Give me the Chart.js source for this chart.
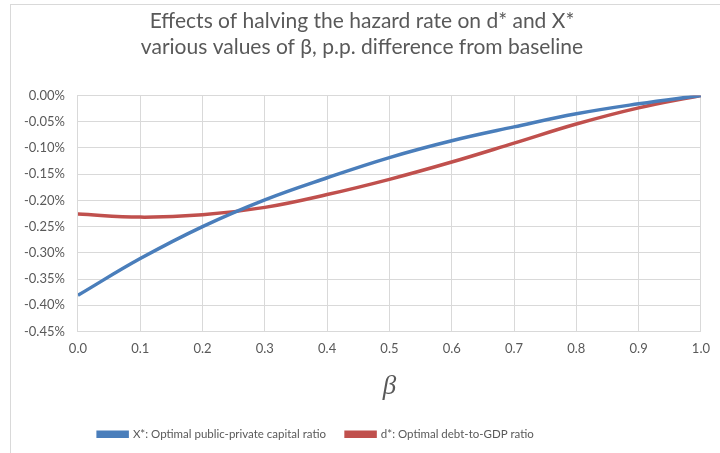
<!DOCTYPE html>
<html>
<head>
<meta charset="utf-8">
<script src="https://cdn.jsdelivr.net/npm/chart.js@4"></script>
<style>
  html, body { margin: 0; padding: 0; background: #fff; }
  #wrap { position: relative; width: 720px; height: 453px; overflow: hidden; }
  #frame { position: absolute; left: 10px; top: 4px; width: 800px; height: 600px; border: 1px solid #d9d9d9; pointer-events: none; }
</style>
</head>
<body>
<div id="wrap">
  <canvas id="chart" width="720" height="453"></canvas>
  <div id="frame"></div>
</div>
<script>
// beta values on the x axis
const betas = [0.0, 0.1, 0.2, 0.3, 0.4, 0.5, 0.6, 0.7, 0.8, 0.9, 1.0];
// X*: optimal public-private capital ratio, p.p. difference from baseline (%)
const xStar = [-0.381, -0.311, -0.250, -0.199, -0.157, -0.1185, -0.0865, -0.060, -0.035, -0.016, 0.0];
// d*: optimal debt-to-GDP ratio, p.p. difference from baseline (%)
const dStar = [-0.226, -0.232, -0.2275, -0.2134, -0.189, -0.160, -0.127, -0.091, -0.0545, -0.0237, 0.0];

const seriesNames = ["X*: Optimal public-private capital ratio", "d*: Optimal debt-to-GDP ratio"];
const titleLines = ["Effects of halving the hazard rate on d* and X*", "various values of β, p.p. difference from baseline"];

const toPoints = (ys) => betas.map((b, i) => ({ x: b, y: ys[i] }));

const textColor = "#595959";
const gridColor = "#d9d9d9";
const baseFont = "Lato, 'Open Sans', sans-serif";

// Excel-style legend sits left of centre
const legendShift = {
  id: "legendShift",
  afterLayout(chart) {
    chart.legend.left -= 46;
    chart.legend.right -= 46;
  }
};

new Chart(document.getElementById("chart"), {
  type: "line",
  data: {
    datasets: [
      {
        label: seriesNames[0],
        data: toPoints(xStar),
        borderColor: "#4a7ebb",
        backgroundColor: "#4a7ebb",
        borderWidth: 3.5,
        pointRadius: 0,
        tension: 0.4
      },
      {
        label: seriesNames[1],
        data: toPoints(dStar),
        borderColor: "#c0504d",
        backgroundColor: "#c0504d",
        borderWidth: 3.5,
        pointRadius: 0,
        tension: 0.4
      }
    ]
  },
  options: {
    responsive: false,
    animation: false,
    layout: { padding: { left: 11, right: 7, top: 5, bottom: 3 } },
    plugins: {
      title: {
        display: true,
        text: titleLines,
        color: textColor,
        font: { family: baseFont, size: 21, weight: "normal", lineHeight: 1.2 },
        padding: { top: 4, bottom: 36 }
      },
      legend: {
        position: "bottom",
        labels: {
          color: textColor,
          font: { family: baseFont, size: 11.5 },
          boxWidth: 29,
          boxHeight: 4,
          padding: 20
        }
      },
      tooltip: { enabled: false }
    },
    scales: {
      x: {
        type: "linear",
        min: 0,
        max: 1,
        ticks: {
          stepSize: 0.1,
          color: textColor,
          font: { family: baseFont, size: 13 },
          callback: (v) => v.toFixed(1),
          padding: 10
        },
        grid: { color: gridColor, drawTicks: false },
        border: { color: gridColor },
        title: {
          display: true,
          text: "β",
          color: textColor,
          font: { family: "'Liberation Serif', serif", size: 27, style: "italic" },
          padding: { top: 4, bottom: 5 }
        }
      },
      y: {
        min: -0.45,
        max: 0,
        ticks: {
          stepSize: 0.05,
          color: textColor,
          font: { family: baseFont, size: 13 },
          callback: (v) => v.toFixed(2) + "%",
          padding: 13
        },
        grid: { color: gridColor, drawTicks: false },
        border: { color: gridColor }
      }
    }
  },
  plugins: [legendShift]
});
</script>
</body>
</html>
